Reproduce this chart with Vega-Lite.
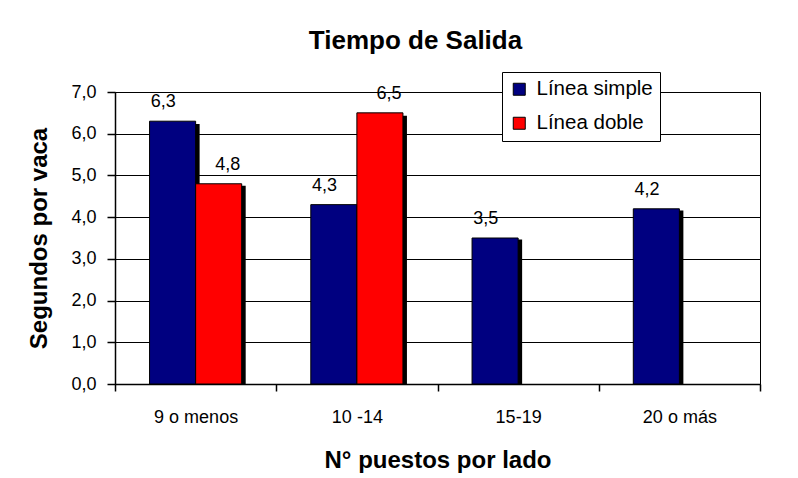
{
  "$schema": "https://vega.github.io/schema/vega-lite/v6.json",
  "width": 645,
  "height": 292,
  "autosize": {"type": "none"},
  "padding": {"left": 115, "top": 92, "right": 38, "bottom": 94},
  "background": "white",
  "title": {
    "text": "Tiempo de Salida",
    "font": "Liberation Sans",
    "fontSize": 26,
    "fontWeight": "bold",
    "color": "black",
    "anchor": "middle",
    "dx": -22,
    "dy": 46,
    "baseline": "alphabetic",
    "offset": 43
  },
  "data": {
    "values": [
      {"puestos": "9 o menos", "linea": "Línea simple", "seg": 6.3},
      {"puestos": "9 o menos", "linea": "Línea doble", "seg": 4.8},
      {"puestos": "10 -14", "linea": "Línea simple", "seg": 4.3},
      {"puestos": "10 -14", "linea": "Línea doble", "seg": 6.5},
      {"puestos": "15-19", "linea": "Línea simple", "seg": 3.5},
      {"puestos": "20 o más", "linea": "Línea simple", "seg": 4.2}
    ]
  },
  "encoding": {
    "x": {
      "field": "puestos",
      "type": "nominal",
      "sort": ["9 o menos", "10 -14", "15-19", "20 o más"],
      "scale": {"domain": ["9 o menos", "10 -14", "15-19", "20 o más"], "paddingInner": 0, "paddingOuter": 0},
      "title": "N° puestos por lado",
      "axis": {
        "labelAngle": 0,
        "tickBand": "extent",
        "tickSize": 7,
        "grid": false,
        "labelPadding": 17,
        "titlePadding": 22
      }
    },
    "xOffset": {
      "field": "linea",
      "type": "nominal",
      "scale": {"domain": ["Línea simple", "Línea doble"], "paddingInner": 0, "paddingOuter": 0.75}
    }
  },
  "layer": [
    {
      "mark": {"type": "bar", "color": "black"},
      "encoding": {
        "xOffset": {
          "field": "linea",
          "type": "nominal",
          "scale": {"domain": ["Línea simple", "Línea doble"], "paddingInner": 0, "paddingOuter": 0.75, "range": [4, 165.25]}
        },
        "y": {
          "field": "seg",
          "type": "quantitative",
          "scale": {"domain": [0, 7], "nice": false, "range": [292, 3]},
          "axis": null
        }
      }
    },
    {
      "mark": {"type": "bar", "stroke": "black", "strokeWidth": 1, "opacity": 1},
      "encoding": {
        "y": {
          "field": "seg",
          "type": "quantitative",
          "scale": {"domain": [0, 7], "nice": false},
          "title": "Segundos por vaca",
          "axis": {
            "values": [0, 1, 2, 3, 4, 5, 6, 7],
            "format": ".1f",
            "grid": true,
            "tickSize": 8,
            "labelPadding": 11,
            "titlePadding": 19
          }
        },
        "color": {
          "field": "linea",
          "type": "nominal",
          "scale": {"domain": ["Línea simple", "Línea doble"], "range": ["#000080", "#FF0000"]},
          "legend": {
            "title": null,
            "orient": "none",
            "legendX": 387,
            "legendY": -20,
            "symbolType": "square",
            "symbolSize": 144,
            "symbolStrokeColor": "black",
            "symbolStrokeWidth": 1,
            "symbolOpacity": 1,
            "labelFont": "Liberation Sans",
            "labelFontSize": 20.5,
            "labelColor": "black",
            "labelOffset": 7,
            "rowPadding": 13,
            "padding": 7,
            "strokeColor": "black",
            "fillColor": "white"
          }
        }
      }
    },
    {
      "mark": {"type": "text", "dy": -14, "baseline": "alphabetic", "font": "Liberation Sans", "fontSize": 18, "color": "black"},
      "encoding": {
        "y": {
          "field": "seg",
          "type": "quantitative",
          "scale": {"domain": [0, 7], "nice": false},
          "axis": null
        },
        "text": {"field": "seg", "type": "quantitative", "format": ".1f"}
      }
    }
  ],
  "resolve": {"scale": {"xOffset": "independent", "y": "independent"}},
  "config": {
    "locale": {
      "number": {"decimal": ",", "thousands": ".", "grouping": [3], "currency": ["", " €"]}
    },
    "view": {"stroke": "black", "strokeWidth": 1},
    "axis": {
      "labelFont": "Liberation Sans",
      "labelFontSize": 18,
      "labelColor": "black",
      "titleFont": "Liberation Sans",
      "titleFontSize": 24,
      "titleFontWeight": "bold",
      "titleColor": "black",
      "domainColor": "black",
      "domainWidth": 1.5,
      "tickColor": "black",
      "tickWidth": 1.5,
      "gridColor": "black",
      "gridWidth": 1,
      "gridOpacity": 1
    }
  }
}
